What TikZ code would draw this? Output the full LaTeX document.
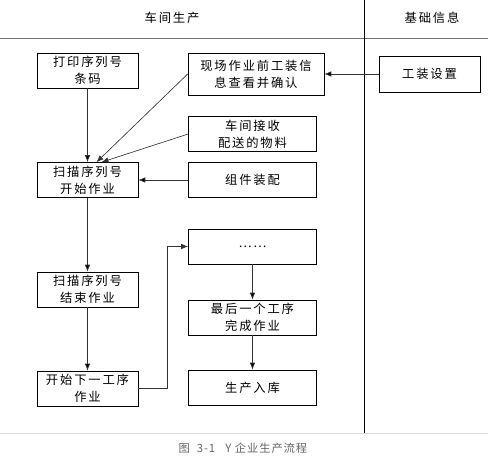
\documentclass[tikz,border=0pt]{standalone}
\usepackage{fontspec}
\setmainfont{Noto Sans CJK SC}[LetterSpace=15]
\newfontfamily\capfont{Noto Sans CJK SC}[LetterSpace=8]
\usepackage{tikz}
\usetikzlibrary{arrows.meta, positioning}

\tikzset{
  box/.style = {draw, line width=0.6pt, inner sep=0pt, align=center,
                minimum width=101pt, minimum height=35pt,
                font=\fontsize{12.3pt}{17pt}\selectfont},
  widebox/.style = {box, minimum width=128pt},
  flow/.style = {-{Latex[length=7pt,width=5.5pt]}, line width=0.65pt, draw=black!80}
}

\begin{document}
\begin{tikzpicture}[x=1pt, y=-1pt, on grid, auto, node distance = 100pt]
		\useasboundingbox (0,0) rectangle (488,462);
		% lanes
		\draw[black!55, line width=0.6pt] (0,38) -- (488,38);
		\draw[black!15, line width=0.6pt] (0,433) -- (488,433);
		\draw[line width=0.8pt] (364,0) -- (364,433);
		\node[font=\fontsize{12.3pt}{14pt}\selectfont] (laneA) at (172,18) {车间生产};
		\node[font=\fontsize{12.3pt}{14pt}\selectfont] (laneB) at (432,18) {基础信息};
		
		\node[box] (print) at (87.5,70.5) {打印序列号\\条码};
		\node[box, minimum width=136pt, minimum height=42pt] (check) at (256,74) {现场作业前工装信\\息查看并确认};
		\node[box, minimum height=36pt, right = 173.5pt of check] (tool) {工装设置};
		\node[widebox, below = 60pt of check, xshift=-3.5pt] (recv) {车间接收\\配送的物料};
		\node[widebox, below = 46pt of recv] (assem) {组件装配};
		\node[box, below = 109.5pt of print] (start) {扫描序列号\\开始作业};
		\node[box, below = 109.5pt of start] (endscan) {扫描序列号\\结束作业};
		\node[box, below = 99pt of endscan] (next) {开始下一工序\\作业};
		\node[widebox, below = 66.5pt of assem] (dots) {……};
		\node[widebox, below = 71pt of dots] (last) {最后一个工序\\完成作业};
		\node[widebox, below = 70pt of last] (store) {生产入库};
		
		\path[flow] (print) edge (start)
		(assem) edge (start)
		(tool) edge (check)
		(start) edge (endscan)
		(endscan) edge (next)
		(dots) edge (last)
		(last) edge (store);
		\draw[flow] (check.west) -- ([xshift=9pt]start.north);
		\draw[flow] (recv.west) -- ([xshift=14pt]start.north);
		\draw[flow] (next.east) -- ++(29,0) |- (dots.west);
		
		\node[text=black!60, font=\capfont\fontsize{11.3pt}{13pt}\selectfont] (caption) at (243,448) {图\ \ 3-1\ \ \ Y 企业生产流程};
		\end{tikzpicture}
\end{document}
